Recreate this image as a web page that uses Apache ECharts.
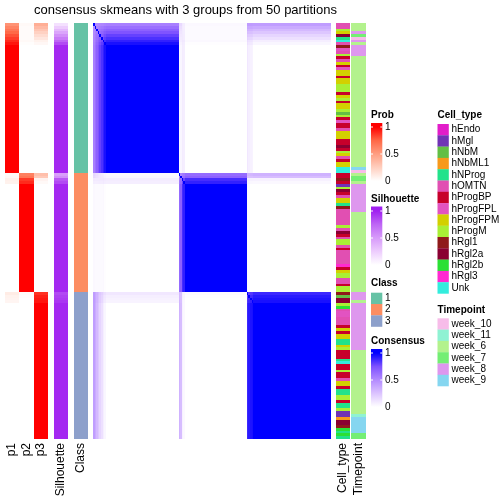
<!DOCTYPE html>
<html>
<head>
<meta charset="utf-8">
<script src="https://cdn.jsdelivr.net/npm/echarts@6/dist/echarts.min.js"></script>
<style>
html,body{margin:0;padding:0;background:#ffffff;}
#chart{width:504px;height:504px;}
</style>
</head>
<body>
<div id="chart"></div>
<script>
// ---------------- data ----------------
const titleText = 'consensus skmeans with 3 groups from 50 partitions';
const probLabels = ['p1', 'p2', 'p3'];

const p1 = [0.55,0.62,0.68,0.74,0.80,0.85,0.90,0.95,1,1,
1,1,1,1,1,1,1,1,1,1,
1,1,1,1,1,1,1,1,1,1,
1,1,1,1,1,1,1,1,1,1,
1,1,1,1,1,1,1,1,1,1,
1,1,1,1,0.03,0.04,0.08,0.07,0,0,
0,0,0,0,0,0,0,0,0,0,
0,0,0,0,0,0,0,0,0,0,
0,0,0,0,0,0,0,0,0,0,
0,0,0,0,0,0,0,0.10,0.07,0.06,
0.05,0,0,0,0,0,0,0,0,0,
0,0,0,0,0,0,0,0,0,0,
0,0,0,0,0,0,0,0,0,0,
0,0,0,0,0,0,0,0,0,0,
0,0,0,0,0,0,0,0,0,0];

const p2 = [0.03,0.02,0.02,0.02,0.02,0.02,0.03,0.01,0,0,
0,0,0,0,0,0,0,0,0,0,
0,0,0,0,0,0,0,0,0,0,
0,0,0,0,0,0,0,0,0,0,
0,0,0,0,0,0,0,0,0,0,
0,0,0,0,0.64,0.68,0.86,0.90,1,1,
1,1,1,1,1,1,1,1,1,1,
1,1,1,1,1,1,1,1,1,1,
1,1,1,1,1,1,1,1,1,1,
1,1,1,1,1,1,1,0.02,0.01,0,
0,0,0,0,0,0,0,0,0,0,
0,0,0,0,0,0,0,0,0,0,
0,0,0,0,0,0,0,0,0,0,
0,0,0,0,0,0,0,0,0,0,
0,0,0,0,0,0,0,0,0,0];

const p3 = [0.42,0.36,0.30,0.24,0.18,0.13,0.07,0.04,0,0,
0,0,0,0,0,0,0,0,0,0,
0,0,0,0,0,0,0,0,0,0,
0,0,0,0,0,0,0,0,0,0,
0,0,0,0,0,0,0,0,0,0,
0,0,0,0,0.33,0.28,0.06,0.03,0,0,
0,0,0,0,0,0,0,0,0,0,
0,0,0,0,0,0,0,0,0,0,
0,0,0,0,0,0,0,0,0,0,
0,0,0,0,0,0,0,0.88,0.92,0.94,
0.95,1,1,1,1,1,1,1,1,1,
1,1,1,1,1,1,1,1,1,1,
1,1,1,1,1,1,1,1,1,1,
1,1,1,1,1,1,1,1,1,1,
1,1,1,1,1,1,1,1,1,1];

const silhouette = [0.15,0.25,0.35,0.45,0.55,0.65,0.75,0.85,0.97,0.97,
0.97,0.97,0.97,0.97,0.97,0.97,0.97,0.97,0.97,0.97,
0.97,0.97,0.97,0.97,0.97,0.97,0.97,0.97,0.97,0.97,
0.97,0.97,0.97,0.97,0.97,0.97,0.97,0.97,0.97,0.97,
0.97,0.97,0.97,0.97,0.97,0.97,0.97,0.97,0.97,0.97,
0.97,0.97,0.97,0.97,0.48,0.55,0.80,0.85,0.97,0.97,
0.97,0.97,0.97,0.97,0.97,0.97,0.97,0.97,0.97,0.97,
0.97,0.97,0.97,0.97,0.97,0.97,0.97,0.97,0.97,0.97,
0.97,0.97,0.97,0.97,0.97,0.97,0.97,0.97,0.97,0.97,
0.97,0.97,0.97,0.97,0.97,0.97,0.97,0.85,0.88,0.90,
0.92,0.97,0.97,0.97,0.97,0.97,0.97,0.97,0.97,0.97,
0.97,0.97,0.97,0.97,0.97,0.97,0.97,0.97,0.97,0.97,
0.97,0.97,0.97,0.97,0.97,0.97,0.97,0.97,0.97,0.97,
0.97,0.97,0.97,0.97,0.97,0.97,0.97,0.97,0.97,0.97,
0.97,0.97,0.97,0.97,0.97,0.97,0.97,0.97,0.97,0.97];

const classNames = ['1', '2', '3'];
const classColors = ['#66C2A5', '#FC8D62', '#8DA0CB'];
// one digit per sample (1..3)
const classCodes =
  '111111111111111111111111111111111111111111111111111111' +
  '2222222222222222222222222222222222222222222' +
  '33333333333333333333333333333333333333333333333333333';

const cellTypeNames = ['hEndo','hMgl','hNbM','hNbML1','hNProg','hOMTN','hProgBP','hProgFPL','hProgFPM','hProgM','hRgl1','hRgl2a','hRgl2b','hRgl3','Unk'];
const cellTypeColors = ['#E21DC9','#7033B5','#63BF44','#F7991B','#22E28B','#E14FB2','#C7002B','#E253C1','#D3D000','#A9EF35','#8F1A1A','#8A0032','#2BE034','#FF2AD1','#33EDDD'];
const cellTypeKey = 'EMNLPOBFYGRADTU'; // letter -> cellTypeNames index
const cellTypeCodes =
  'OOGYAPUORF' + 'OGBOYBFYYB' + 'YYGGGBYGBY' + 'YGNGBFBBOY' + 'YYBBABGYOB' + 'YYUU' +
  'BBRBMGABOY' + 'YPROOOOOOG' + 'OABOGGOBOO' + 'OOOTBYGGOO' + 'BGG' +
  'RNAAGDOFFO' + 'OOBYBYYPPY' + 'GBBBPUBBGB' + 'BOYYBPPGGB' + 'PPGMMLAARD' + 'PDP';

const timepointNames = ['week_10','week_11','week_6','week_7','week_8','week_9'];
const timepointColors = ['#F7BCE9','#8FF2D3','#B3F28D','#74EE74','#DE97EE','#85D6F0'];
const timepointKey = 'abcdef'; // letter -> timepointNames index
const timepointCodes =
  'cccedaeceeee' +
  'cccccccccc' + 'cccccccccc' + 'cccccccccc' + 'cccccccccc' +
  'facddc' + 'eeeeeeeeee' +
  'cccccccccc' + 'cccccccccc' + 'ccccccccc' +
  'eeec' + 'eeeeeeeeeeeeeeeee' +
  'cccccccccccccccccccccccb' + 'ffffffdd';

const tickLabels = ['1', '0.5', '0'];
const tickValues = [1, 0.5, 0];
// colours listed from value 0 (white) to value 1
const probColors = ['#FFFFFF', '#FFCFBF', '#FF9E81', '#FF6846', '#FF0000'];
const silColors  = ['#FFFFFF', '#EDCDFD', '#D79BFA', '#BE66F5', '#A020F0'];
const consColors = ['#FFFFFF', '#DCC4FF', '#B38BFF', '#7E51FF', '#0000FF'];

// ---------------- build ----------------
const FONT = '"Liberation Sans", Arial, Helvetica, sans-serif';
const N = p1.length;
const rows = p1.map((_, i) => String(i));
const probs = [p1, p2, p3];

const probData = [];
rows.forEach((_, i) => probs.forEach((arr, k) => probData.push([k, i, arr[i]])));
const silData = silhouette.map((v, i) => [0, i, v]);
const classData = classCodes.split('').map((c, i) => [0, i, Number(c) - 1]);
const cellData = cellTypeCodes.split('').map((c, i) => [0, i, cellTypeKey.indexOf(c)]);
const timeData = timepointCodes.split('').map((c, i) => [0, i, timepointKey.indexOf(c)]);

// consensus between two samples from their class membership probabilities
const consData = [];
for (let i = 0; i < N; i++) {
  for (let j = 0; j < N; j++) {
    const v = (i === j) ? 1 : p1[i] * p1[j] + p2[i] * p2[j] + p3[i] * p3[j];
    consData.push([j, i, Math.min(1, v)]);
  }
}

const TOP = 23, H = 416;
const grids = [
  { left: 5,   width: 43 },
  { left: 54,  width: 14 },
  { left: 74,  width: 14 },
  { left: 93,  width: 238 },
  { left: 336, width: 14 },
  { left: 351, width: 15 }
].map(g => Object.assign({ top: TOP, height: H, containLabel: false }, g));

const xLabelsPerGrid = [probLabels, ['Silhouette'], ['Class'], rows, ['Cell_type'], ['Timepoint']];
const xAxes = xLabelsPerGrid.map((d, gi) => ({
  gridIndex: gi, type: 'category', data: d, position: 'bottom',
  axisLine: { show: false }, axisTick: { show: false }, splitLine: { show: false },
  axisLabel: { show: gi !== 3, rotate: 90, margin: 4, interval: 0, fontSize: 12, fontFamily: FONT, color: '#000' }
}));
const yAxes = grids.map((_, gi) => ({ gridIndex: gi, type: 'category', data: rows, inverse: true, show: false }));

// cells drawn at the axis band positions, edges snapped to whole pixels (no seams)
function cellRect(api, fill) {
  const c = api.coord([api.value(0), api.value(1)]);
  const s = api.size([1, 1]);
  const x0 = Math.round(c[0] - s[0] / 2), x1 = Math.round(c[0] + s[0] / 2);
  const y0 = Math.round(c[1] - s[1] / 2), y1 = Math.round(c[1] + s[1] / 2);
  return { type: 'rect', shape: { x: x0, y: y0, width: x1 - x0, height: y1 - y0 },
    style: { fill: fill } };
}
function paletteRender(palette) {
  return function (params, api) { return cellRect(api, palette[api.value(2)]); };
}
function visualRender(params, api) { return cellRect(api, api.visual('color')); }

function customSeries(gi, data, render) {
  return { type: 'custom', xAxisIndex: gi, yAxisIndex: gi, data: data, encode: { x: 0, y: 1 },
    renderItem: render, progressive: 0, silent: true };
}
const series = [
  customSeries(0, probData, visualRender),
  customSeries(1, silData, visualRender),
  customSeries(2, classData, paletteRender(classColors)),
  customSeries(3, consData, visualRender),
  customSeries(4, cellData, paletteRender(cellTypeColors)),
  customSeries(5, timeData, paletteRender(timepointColors))
];

const visualMap = [
  { type: 'continuous', show: false, min: 0, max: 1, dimension: 2, seriesIndex: 0, inRange: { color: probColors } },
  { type: 'continuous', show: false, min: 0, max: 1, dimension: 2, seriesIndex: 1, inRange: { color: silColors } },
  { type: 'continuous', show: false, min: 0, max: 1, dimension: 2, seriesIndex: 3, inRange: { color: consColors } }
];

// ---------------- legends (graphic) ----------------
const graphic = [];
function txt(x, y, s, opt) {
  opt = opt || {};
  graphic.push({ type: 'text', x: x, y: y, silent: true, style: {
    text: s, fontSize: opt.size || 10, fontFamily: FONT, fontWeight: opt.bold ? 'bold' : 'normal', fill: '#000',
    textAlign: opt.align || 'left', align: opt.align || 'left', textVerticalAlign: 'middle', verticalAlign: 'middle' } });
}
txt(185.5, 10, titleText, { size: 13, align: 'center' });

const LX = 371, SW = 11.3, LABX = 385;
function contLegend(title, colors, titleY, barTop, barBot, tickTop, tickBot) {
  txt(LX, titleY, title, { bold: true });
  const h = barBot - barTop;
  const stops = colors.map((c, k) => {
    const v = k / (colors.length - 1);             // colors[k] is for value v
    const y = tickBot - v * (tickBot - tickTop);
    return { offset: Math.max(0, Math.min(1, (y - barTop) / h)), color: c };
  });
  stops.sort((a, b) => a.offset - b.offset);
  graphic.push({ type: 'rect', silent: true, shape: { x: LX, y: barTop, width: SW, height: h },
    style: { fill: { type: 'linear', x: 0, y: 0, x2: 0, y2: 1, colorStops: stops } } });
  tickValues.forEach((v, k) => {
    const y = tickBot - v * (tickBot - tickTop);
    graphic.push({ type: 'line', silent: true, shape: { x1: LX, y1: y, x2: LX + 2, y2: y }, style: { stroke: '#fff', lineWidth: 1 } });
    graphic.push({ type: 'line', silent: true, shape: { x1: LX + SW - 2, y1: y, x2: LX + SW, y2: y }, style: { stroke: '#fff', lineWidth: 1 } });
    txt(LABX, y, tickLabels[k]);
  });
}
contLegend('Prob', probColors, 115, 123, 182, 127, 181);
contLegend('Silhouette', silColors, 199, 206.5, 265.5, 211, 265);
contLegend('Consensus', consColors, 341, 349, 408, 353, 407);

function discLegend(title, names, colors, x, titleY, top) {
  txt(x, titleY, title, { bold: true });
  names.forEach((n, k) => {
    const y = top + k * SW;
    graphic.push({ type: 'rect', silent: true, shape: { x: x, y: y, width: SW, height: SW + 0.2 }, style: { fill: colors[k] } });
    txt(x + 14, y + SW / 2, n);
  });
}
discLegend('Class', classNames, classColors, LX, 283, 292.7);
discLegend('Cell_type', cellTypeNames, cellTypeColors, 437.5, 115, 124);
discLegend('Timepoint', timepointNames, timepointColors, 437.5, 310, 318.3);

const chart = echarts.init(document.getElementById('chart'), null, { renderer: 'canvas' });
chart.setOption({
  animation: false,
  backgroundColor: '#ffffff',
  grid: grids,
  xAxis: xAxes,
  yAxis: yAxes,
  visualMap: visualMap,
  series: series,
  graphic: graphic
});
</script>
</body>
</html>
